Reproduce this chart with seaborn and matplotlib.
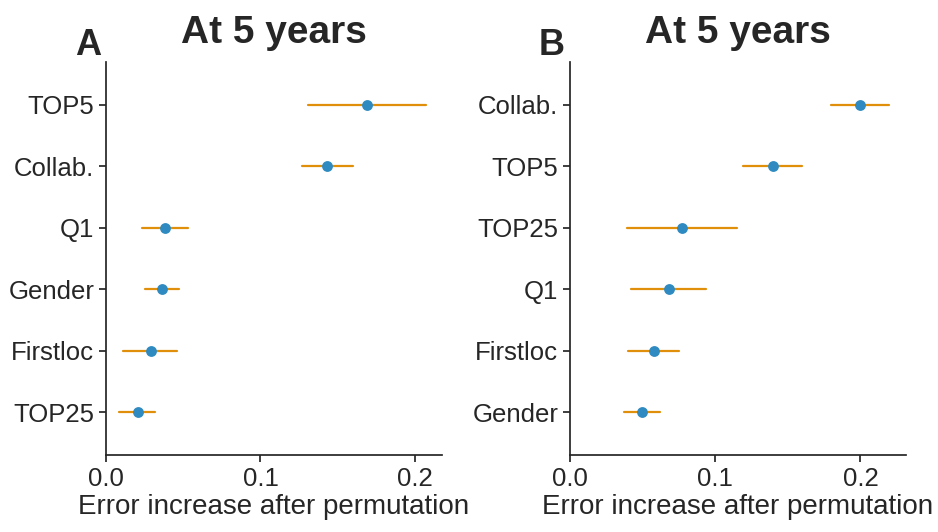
import numpy as np
import pandas as pd
import matplotlib
matplotlib.use("Agg")
import matplotlib.pyplot as plt
import seaborn as sns

# Panel A
cats_a = ["TOP5", "Collab.", "Q1", "Gender", "Firstloc", "TOP25"]
mid_a = [0.169, 0.143, 0.038, 0.036, 0.029, 0.0205]
low_a = [0.131, 0.127, 0.023, 0.025, 0.011, 0.0086]
high_a = [0.207, 0.160, 0.053, 0.047, 0.046, 0.032]

# Panel B
cats_b = ["Collab.", "TOP5", "TOP25", "Q1", "Firstloc", "Gender"]
mid_b = [0.200, 0.140, 0.077, 0.068, 0.058, 0.0496]
low_b = [0.180, 0.119, 0.0395, 0.042, 0.040, 0.037]
high_b = [0.220, 0.160, 0.115, 0.094, 0.075, 0.062]

title_text = "At 5 years"
xlabel_text = "Error increase after permutation"

sns.set_theme(style="ticks")
plt.rcParams["font.family"] = ["Liberation Sans", "DejaVu Sans"]
plt.rcParams["text.color"] = "#262626"
plt.rcParams["axes.labelcolor"] = "#262626"
plt.rcParams["xtick.color"] = "#262626"
plt.rcParams["ytick.color"] = "#262626"
plt.rcParams["axes.edgecolor"] = "#262626"

POINT = "#2e8ac0"
ERR = "#e08f0a"

fig = plt.figure(figsize=(9.38, 5.32), dpi=100)
ax_a = fig.add_axes([106 / 938, 1 - 455 / 532, (442 - 106) / 938, (455 - 62) / 532])
ax_b = fig.add_axes([570 / 938, 1 - 455 / 532, (906 - 570) / 938, (455 - 62) / 532])


def make_df(cats, low, mid, high):
    rows = []
    for c, l, m, h in zip(cats, low, mid, high):
        for v in (l, m, h):
            rows.append({"feature": c, "value": v})
    return pd.DataFrame(rows)


def draw(ax, cats, low, mid, high, xmax, letter, lx):
    df = make_df(cats, low, mid, high)
    sns.pointplot(data=df, x="value", y="feature", order=cats, estimator=np.median,
                  errorbar=("pi", 100), linestyle="none", color=POINT,
                  markersize=7.8, markeredgewidth=0,
                  err_kws={"color": ERR, "linewidth": 1.6, "zorder": 1},
                  ax=ax)
    ax.set_xlim(0, xmax)
    ax.set_ylim(5.7, -0.7)
    ax.set_xticks([0.0, 0.1, 0.2])
    ax.set_xticklabels(["0.0", "0.1", "0.2"])
    ax.set_ylabel("")
    ax.set_xlabel(xlabel_text, fontsize=20, labelpad=2)
    ax.tick_params(axis="both", labelsize=18.5, length=5, width=1.25)
    for s in ax.spines.values():
        s.set_linewidth(1.25)
    sns.despine(ax=ax)
    ax.set_title(title_text, fontsize=28, fontweight="bold", pad=13.5)
    fig.text(lx / 938, 1 - 55 / 532, letter, fontsize=26, fontweight="bold",
             ha="left", va="baseline")


draw(ax_a, cats_a, low_a, mid_a, high_a, 0.2175, "A", 75)
draw(ax_b, cats_b, low_b, mid_b, high_b, 0.2314, "B", 539)

fig.savefig("out.png", dpi=100)
